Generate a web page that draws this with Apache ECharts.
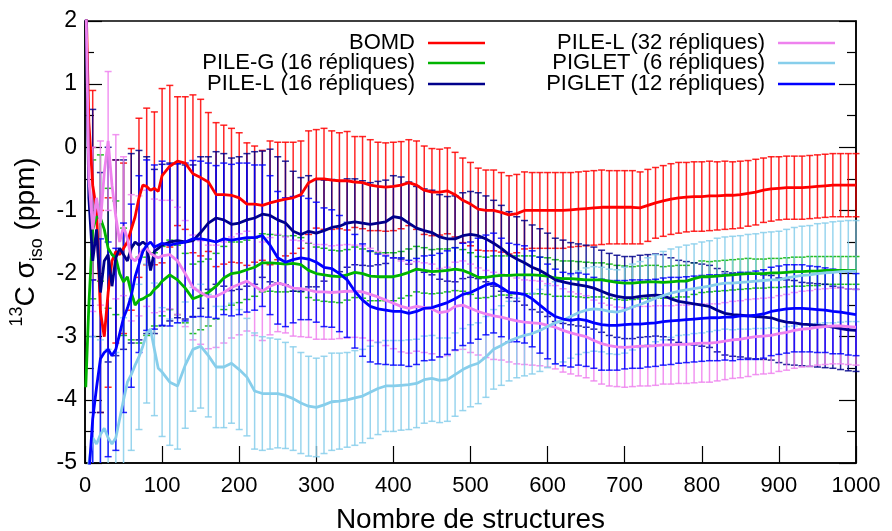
<!DOCTYPE html>
<html><head><meta charset="utf-8">
<script src="https://cdn.jsdelivr.net/npm/echarts@6/dist/echarts.min.js"></script>
<style>html,body{margin:0;padding:0;background:#fff}#c{width:892px;height:531px}</style>
</head><body><div id="c"></div>
<script>
// Number of structures (x positions of the running averages)
const structures = [1,5,10,15,20,25,30,35,40,45,50,55,60,65,70,75,80,85,90,95,100,
 110,120,130,140,150,160,170,180,190,200,210,220,230,240,250,260,270,280,290,300,
 310,320,330,340,350,360,370,380,390,400,410,420,430,440,450,460,470,480,490,500,
 510,520,530,540,550,560,570,580,590,600,610,620,630,640,650,660,670,680,690,700,
 710,720,730,740,750,760,770,780,790,800,810,820,830,840,850,860,870,880,890,900,
 910,920,930,940,950,960,970,980,990,1000];

const seriesNames = ['BOMD','PILE-G (16 répliques)','PILE-L (16 répliques)','PILE-L (32 répliques)','PIGLET  (6 répliques)','PIGLET (12 répliques)'];
const seriesColors = ['#ff0000','#00b400','#00008b','#ee82ee','#87ceeb','#0000ff'];

const bomd = [2.5,0.4,-0.6,-1.0,-2.6,-3.0,-2.3,-1.8,-1.65,-1.7,-1.6,-1.5,-1.3,-1.1,-0.8,-0.6,-0.62,-0.68,-0.65,-0.7,-0.45,
 -0.3,-0.22,-0.25,-0.42,-0.48,-0.55,-0.75,-0.75,-0.76,-0.8,
 -0.9,-0.9,-0.92,-0.88,-0.85,-0.82,-0.8,-0.75,-0.56,-0.5,
 -0.5,-0.52,-0.53,-0.53,-0.55,-0.56,-0.6,-0.62,-0.63,-0.62,
 -0.6,-0.56,-0.6,-0.68,-0.71,-0.71,-0.69,-0.75,-0.84,-0.9,
 -0.98,-1.0,-1.0,-1.03,-1.07,-1.05,-1.0,-1.0,-1.0,-1.0,
 -1.0,-1.0,-0.99,-0.98,-0.97,-0.96,-0.95,-0.95,-0.95,-0.95,
 -0.95,-0.96,-0.92,-0.88,-0.85,-0.82,-0.8,-0.79,-0.78,-0.78,
 -0.77,-0.77,-0.76,-0.76,-0.75,-0.73,-0.71,-0.68,-0.66,-0.65,
 -0.64,-0.64,-0.64,-0.63,-0.62,-0.61,-0.6,-0.6,-0.6,-0.6];

const pileG16 = [-3.8,-2.5,-1.3,-1.1,-1.12,-1.3,-1.6,-1.7,-1.75,-2.0,-2.13,-2.05,-2.3,-2.5,-2.42,-2.4,-2.36,-2.33,-2.25,-2.2,-2.12,
 -2.02,-2.1,-2.23,-2.4,-2.35,-2.3,-2.2,-2.07,-2.0,-1.98,
 -1.94,-1.9,-1.83,-1.83,-1.84,-1.85,-1.84,-1.86,-1.95,-2.0,
 -2.02,-2.04,-2.05,-2.02,-1.98,-2.0,-2.04,-2.05,-2.05,-2.05,
 -2.02,-1.98,-1.93,-1.95,-1.97,-1.96,-1.95,-1.93,-1.95,-2.0,
 -2.06,-2.06,-2.04,-2.03,-2.03,-2.02,-2.02,-2.02,-2.03,-2.04,
 -2.07,-2.08,-2.08,-2.09,-2.1,-2.1,-2.1,-2.12,-2.14,-2.15,
 -2.15,-2.14,-2.13,-2.13,-2.14,-2.13,-2.12,-2.12,-2.08,-2.05,
 -2.05,-2.04,-2.03,-2.02,-2.01,-2.0,-2.0,-2.0,-1.99,-1.99,
 -1.98,-1.97,-1.97,-1.96,-1.96,-1.95,-1.95,-1.95,-1.95,-1.95];

const pileL16 = [2.5,-0.8,-1.8,-1.3,-2.3,-1.8,-1.7,-2.2,-1.75,-1.6,-1.7,-1.8,-1.6,-1.5,-1.55,-1.5,-1.55,-1.95,-1.65,-1.6,-1.55,
 -1.5,-1.48,-1.5,-1.48,-1.35,-1.2,-1.12,-1.15,-1.22,-1.2,
 -1.15,-1.12,-1.06,-1.08,-1.15,-1.2,-1.33,-1.38,-1.33,-1.36,
 -1.32,-1.27,-1.25,-1.2,-1.18,-1.2,-1.22,-1.2,-1.18,-1.1,
 -1.12,-1.2,-1.28,-1.32,-1.35,-1.42,-1.45,-1.45,-1.4,-1.38,
 -1.4,-1.45,-1.52,-1.6,-1.7,-1.77,-1.83,-1.9,-1.95,-2.02,
 -2.1,-2.13,-2.16,-2.18,-2.2,-2.23,-2.28,-2.33,-2.36,-2.38,
 -2.38,-2.36,-2.35,-2.34,-2.35,-2.4,-2.44,-2.46,-2.48,-2.5,
 -2.52,-2.58,-2.63,-2.65,-2.66,-2.67,-2.68,-2.69,-2.7,-2.74,
 -2.77,-2.78,-2.8,-2.81,-2.82,-2.83,-2.85,-2.87,-2.89,-2.9];

const pileL32 = [2.5,-0.5,-1.3,-0.8,-1.2,-0.4,0.1,-0.6,-1.1,-1.5,-1.25,-1.45,-1.75,-1.8,-1.72,-1.62,-1.6,-1.68,-1.72,-1.75,-1.72,
 -1.7,-1.8,-2.0,-2.22,-2.3,-2.37,-2.36,-2.3,-2.22,-2.17,
 -2.12,-2.2,-2.28,-2.2,-2.15,-2.18,-2.23,-2.24,-2.26,-2.29,
 -2.29,-2.3,-2.29,-2.28,-2.28,-2.29,-2.33,-2.37,-2.42,-2.47,
 -2.52,-2.55,-2.52,-2.54,-2.56,-2.62,-2.6,-2.52,-2.5,-2.55,
 -2.6,-2.64,-2.67,-2.69,-2.72,-2.75,-2.77,-2.78,-2.79,-2.82,
 -2.85,-2.9,-2.94,-2.97,-3.0,-3.06,-3.11,-3.14,-3.16,-3.17,
 -3.16,-3.15,-3.15,-3.14,-3.13,-3.13,-3.12,-3.12,-3.11,-3.1,
 -3.1,-3.09,-3.07,-3.05,-3.04,-3.02,-3.0,-2.99,-2.98,-2.95,
 -2.93,-2.9,-2.88,-2.87,-2.85,-2.84,-2.83,-2.83,-2.84,-2.85];

const piglet6 = [-5.5,-5.0,-4.6,-4.7,-4.55,-4.45,-4.6,-4.7,-4.6,-4.3,-4.0,-3.72,-3.6,-3.45,-3.32,-3.15,-2.95,-2.88,-3.2,-3.5,-3.56,
 -3.72,-3.78,-3.45,-3.2,-3.15,-3.3,-3.48,-3.48,-3.42,-3.52,
 -3.64,-3.86,-3.9,-3.9,-3.9,-3.93,-3.98,-4.05,-4.1,-4.12,
 -4.08,-4.03,-4.02,-4.0,-3.97,-3.94,-3.88,-3.82,-3.78,-3.78,
 -3.77,-3.76,-3.74,-3.68,-3.66,-3.69,-3.68,-3.6,-3.52,-3.46,
 -3.42,-3.32,-3.2,-3.14,-3.07,-3.02,-2.98,-2.95,-2.9,-2.84,
 -2.78,-2.74,-2.68,-2.62,-2.58,-2.56,-2.57,-2.6,-2.61,-2.58,
 -2.53,-2.49,-2.44,-2.39,-2.35,-2.31,-2.28,-2.26,-2.24,-2.22,
 -2.2,-2.17,-2.15,-2.15,-2.14,-2.13,-2.12,-2.11,-2.1,-2.1,
 -2.07,-2.05,-2.03,-2.02,-2.0,-1.99,-1.98,-1.97,-1.96,-1.96];

const piglet12 = [-5.5,-5.2,-4.3,-3.8,-3.35,-3.25,-3.2,-3.3,-3.2,-2.95,-2.7,-2.55,-2.35,-2.05,-1.85,-1.65,-1.55,-1.5,-1.58,-1.55,-1.52,
 -1.55,-1.52,-1.5,-1.45,-1.45,-1.47,-1.5,-1.45,-1.47,-1.45,
 -1.43,-1.43,-1.4,-1.55,-1.75,-1.82,-1.78,-1.75,-1.77,-1.82,
 -1.9,-1.92,-2.0,-2.1,-2.28,-2.42,-2.52,-2.56,-2.58,-2.6,
 -2.6,-2.63,-2.6,-2.55,-2.54,-2.5,-2.46,-2.4,-2.33,-2.3,
 -2.24,-2.18,-2.15,-2.22,-2.3,-2.31,-2.33,-2.4,-2.5,-2.6,
 -2.68,-2.72,-2.74,-2.72,-2.74,-2.78,-2.81,-2.82,-2.82,-2.81,
 -2.8,-2.8,-2.79,-2.78,-2.76,-2.75,-2.74,-2.73,-2.72,-2.71,
 -2.7,-2.7,-2.69,-2.69,-2.67,-2.67,-2.66,-2.64,-2.6,-2.58,
 -2.56,-2.55,-2.55,-2.56,-2.57,-2.58,-2.6,-2.61,-2.63,-2.65];

// Error bars (half widths), one every 10 structures: 10, 20, ..., 1000
const errBomd = [1.5,1.6,1.5,1.45,1.35,1.28,1.26,1.24,1.21,1.38,
 1.28,1.02,1.05,1.25,1.24,1.1,1.14,1.1,1.06,1.03,
 0.97,0.92,0.87,0.98,0.93,0.9,0.88,0.85,0.82,0.78,
 0.8,0.78,0.76,0.78,0.72,0.73,0.72,0.7,0.7,0.7,
 0.69,0.68,0.7,0.7,0.69,0.68,0.68,0.67,0.67,0.66,
 0.65,0.64,0.64,0.63,0.62,0.62,0.61,0.6,0.6,0.6,
 0.6,0.6,0.59,0.59,0.59,0.59,0.59,0.58,0.58,0.58,
 0.58,0.57,0.57,0.56,0.56,0.56,0.56,0.55,0.55,0.55,
 0.55,0.54,0.54,0.53,0.53,0.52,0.52,0.51,0.51,0.5,
 0.5,0.5,0.5,0.5,0.5,0.5,0.5,0.5,0.5,0.5];
const errPileG16 = [1.1,1.0,0.95,0.9,0.85,0.75,0.68,0.62,0.58,0.55,
 0.55,0.55,0.55,0.55,0.54,0.53,0.52,0.5,0.5,0.48,
 0.47,0.46,0.46,0.45,0.45,0.44,0.44,0.43,0.43,0.42,
 0.42,0.41,0.41,0.4,0.4,0.39,0.39,0.38,0.38,0.38,
 0.37,0.37,0.36,0.36,0.35,0.35,0.34,0.34,0.33,0.33,
 0.33,0.32,0.32,0.31,0.31,0.3,0.3,0.3,0.29,0.29,
 0.29,0.28,0.28,0.28,0.28,0.27,0.27,0.27,0.27,0.27,
 0.26,0.26,0.26,0.26,0.25,0.25,0.25,0.25,0.25,0.25,
 0.24,0.24,0.24,0.24,0.24,0.24,0.23,0.23,0.23,0.23,
 0.23,0.23,0.23,0.23,0.23,0.22,0.22,0.22,0.22,0.22];
const errPileL16 = [2.4,1.9,1.7,1.55,1.5,1.5,1.5,1.4,1.3,1.28,
 1.25,1.22,1.22,1.2,1.2,1.05,1.05,1.05,1.05,1.05,
 1.05,1.05,1.0,1.05,1.0,0.98,0.95,0.9,0.88,0.85,
 0.8,0.76,0.72,0.7,0.68,0.67,0.66,0.66,0.66,0.65,
 0.65,0.65,0.66,0.66,0.67,0.67,0.67,0.68,0.68,0.68,
 0.68,0.68,0.68,0.68,0.68,0.67,0.67,0.67,0.66,0.66,
 0.66,0.66,0.65,0.65,0.65,0.65,0.65,0.65,0.65,0.65,
 0.65,0.65,0.65,0.65,0.65,0.65,0.65,0.65,0.65,0.65,
 0.65,0.66,0.66,0.66,0.66,0.67,0.67,0.67,0.67,0.67,
 0.67,0.67,0.66,0.66,0.66,0.66,0.65,0.65,0.65,0.65];
const errPileL32 = [1.3,1.3,1.1,1.3,1.1,1.0,0.95,0.92,0.9,0.88,
 0.86,0.85,0.84,0.83,0.82,0.82,0.81,0.8,0.8,0.8,
 0.79,0.78,0.78,0.77,0.77,0.76,0.76,0.76,0.75,0.75,
 0.75,0.74,0.74,0.74,0.73,0.73,0.73,0.72,0.72,0.72,
 0.72,0.71,0.71,0.71,0.71,0.7,0.7,0.7,0.7,0.7,
 0.69,0.69,0.69,0.68,0.68,0.68,0.67,0.67,0.67,0.66,
 0.66,0.66,0.65,0.65,0.65,0.64,0.64,0.64,0.63,0.63,
 0.63,0.63,0.63,0.63,0.62,0.62,0.62,0.62,0.62,0.62,
 0.62,0.61,0.61,0.61,0.61,0.61,0.6,0.6,0.6,0.6,
 0.6,0.6,0.6,0.6,0.6,0.6,0.6,0.6,0.6,0.6];
const errPiglet6 = [1.6,1.5,1.4,1.35,1.3,1.2,1.15,1.1,1.05,1.02,
 1.0,1.0,1.0,0.98,0.98,0.97,0.96,0.96,0.95,0.95,
 0.93,0.92,0.9,0.88,0.86,0.84,0.82,0.8,0.79,0.78,
 0.77,0.77,0.76,0.75,0.75,0.74,0.73,0.73,0.72,0.72,
 0.71,0.71,0.7,0.69,0.68,0.67,0.66,0.66,0.65,0.65,
 0.64,0.64,0.63,0.63,0.63,0.63,0.64,0.64,0.65,0.65,
 0.65,0.66,0.66,0.66,0.67,0.67,0.67,0.67,0.67,0.68,
 0.68,0.68,0.69,0.69,0.7,0.7,0.7,0.71,0.71,0.72,
 0.72,0.73,0.73,0.74,0.74,0.75,0.75,0.76,0.76,0.77,
 0.77,0.78,0.78,0.78,0.79,0.79,0.8,0.8,0.8,0.8];
const errPiglet12 = [2.2,1.9,1.7,1.6,1.5,1.45,1.4,1.35,1.3,1.3,
 1.28,1.26,1.25,1.24,1.23,1.22,1.21,1.2,1.2,1.2,
 1.18,1.15,1.12,1.1,1.05,1.02,1.0,0.98,0.96,0.95,
 0.94,0.93,0.92,0.91,0.9,0.89,0.88,0.87,0.86,0.85,
 0.85,0.84,0.84,0.83,0.83,0.82,0.82,0.81,0.81,0.8,
 0.8,0.79,0.79,0.78,0.78,0.77,0.77,0.76,0.76,0.75,
 0.75,0.74,0.74,0.73,0.73,0.72,0.72,0.71,0.71,0.7,
 0.7,0.7,0.69,0.69,0.69,0.69,0.68,0.68,0.68,0.68,
 0.68,0.68,0.68,0.69,0.69,0.69,0.7,0.7,0.7,0.7,
 0.7,0.69,0.69,0.68,0.68,0.67,0.67,0.66,0.66,0.65];

const yTicks = [-5,-4,-3,-2,-1,0,1,2];
const xTicks = [0,100,200,300,400,500,600,700,800,900,1000];

const means = [bomd,pileG16,pileL16,pileL32,piglet6,piglet12];
const errs = [errBomd,errPileG16,errPileL16,errPileL32,errPiglet6,errPiglet12];
const Y_MIN = yTicks[0], Y_MAX = yTicks[yTicks.length-1];

function errData(mean, err){
  const out = [];
  err.forEach((e,k)=>{
    const x = 10*(k+1);
    const i = structures.indexOf(x);
    if (i < 0) return;
    out.push([x, mean[i]-e, mean[i]+e]);
  });
  return out;
}
function makeErrRender(color){
  return function(params, api){
    const x = api.value(0), lo = api.value(1), hi = api.value(2);
    if (hi < Y_MIN || lo > Y_MAX) return null;
    const top = api.coord([x, Math.min(hi, Y_MAX)]);
    const bot = api.coord([x, Math.max(lo, Y_MIN)]);
    const cw = 3.5;
    const style = {stroke: color, lineWidth: 1.5, opacity: 0.85};
    const ch = [{type:'line', shape:{x1:top[0],y1:top[1],x2:bot[0],y2:bot[1]}, style}];
    if (hi <= Y_MAX) ch.push({type:'line', shape:{x1:top[0]-cw,y1:top[1],x2:top[0]+cw,y2:top[1]}, style});
    if (lo >= Y_MIN) ch.push({type:'line', shape:{x1:bot[0]-cw,y1:bot[1],x2:bot[0]+cw,y2:bot[1]}, style});
    return {type:'group', children: ch};
  };
}

const series = [];
means.forEach((m, s)=>{
  series.push({
    type:'custom', name: seriesNames[s]+' err', z: 2, silent: true,
    renderItem: makeErrRender(seriesColors[s]),
    encode: {x:0, y:[1,2]},
    data: errData(m, errs[s]), animation:false
  });
});
means.forEach((m, s)=>{
  series.push({
    type:'line', name: seriesNames[s], z: 3, showSymbol:false, clip:true,
    data: structures.map((x,i)=>[x, m[i]]),
    lineStyle:{color: seriesColors[s], width: 2.8},
    itemStyle:{color: seriesColors[s]},
    animation:false
  });
});

const legendPos = [
  {right: 407, top: 32}, {right: 407, top: 52}, {right: 407, top: 73},
  {right: 57, top: 32}, {right: 57, top: 52}, {right: 57, top: 73}
];
const axisFont = 'Liberation Sans, Arial, sans-serif';
const legends = seriesNames.map((n, s)=>({
  show:true, data:[{name:n, icon:'rect'}], orient:'horizontal', align:'right',
  right: legendPos[s].right, top: legendPos[s].top, padding:0,
  itemWidth: 57, itemHeight: 2.5, selectedMode:false,
  textStyle:{fontSize:22, color:'#000', fontFamily:axisFont, padding:[0,8,0,0]}
}));

const chart = echarts.init(document.getElementById('c'), null, {renderer:'canvas'});
chart.setOption({
  backgroundColor:'#fff',
  animation:false,
  grid:{left:85, right:36, top:21, bottom:68, outerBoundsMode:'none', containLabel:false,
    show:true, borderColor:'#000', borderWidth:1.5, backgroundColor:'transparent'},
  legend: legends,
  xAxis:{type:'value', min:xTicks[0], max:xTicks[xTicks.length-1], interval:100,
    axisLine:{onZero:false, lineStyle:{color:'#000', width:1.5}},
    axisTick:{inside:true, length:17, lineStyle:{color:'#000', width:1.2}},
    axisLabel:{fontSize:22, color:'#000', margin:12, fontFamily:axisFont, formatter: v => String(v)},
    splitLine:{show:false},
    name:'Nombre de structures', nameLocation:'middle', nameGap:43,
    nameTextStyle:{fontSize:28, color:'#000', fontFamily:axisFont}
  },
  yAxis:[{type:'value', min:Y_MIN, max:Y_MAX, interval:1, position:'left',
    axisLine:{show:true, onZero:false, lineStyle:{color:'#000', width:1.5}},
    axisTick:{inside:true, length:17, lineStyle:{color:'#000', width:1.2}},
    minorTick:{show:true, splitNumber:2, length:9, lineStyle:{color:'#000', width:1.2}},
    axisLabel:{fontSize:23, color:'#000', margin:8, fontFamily:axisFont},
    splitLine:{show:false},
    name:'{sup|13}C σ{sub|iso} (ppm)', nameLocation:'middle', nameRotate:90, nameGap:32,
    nameTextStyle:{fontSize:28, color:'#000', fontFamily:axisFont, lineHeight:38,
      rich:{sup:{fontSize:18, lineHeight:18, verticalAlign:'top', fontFamily:axisFont, color:'#000'},
            sub:{fontSize:18, lineHeight:18, verticalAlign:'bottom', fontFamily:axisFont, color:'#000'}}}
  },{type:'value', min:Y_MIN, max:Y_MAX, interval:1, position:'right',
    axisLine:{show:true, onZero:false, lineStyle:{color:'#000', width:1.5}},
    axisTick:{inside:true, length:17, lineStyle:{color:'#000', width:1.2}},
    minorTick:{show:true, splitNumber:2, length:9, lineStyle:{color:'#000', width:1.2}},
    axisLabel:{show:false}, splitLine:{show:false}
  }],
  series: series
});
</script></body></html>
